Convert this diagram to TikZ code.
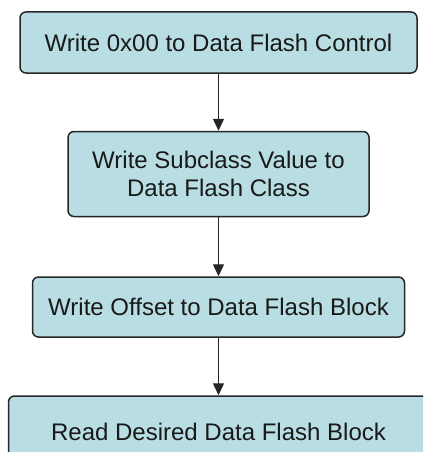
\documentclass[tikz,border=0pt]{standalone}
\usepackage{fontspec}
\setmainfont{Liberation Sans}
\usetikzlibrary{arrows.meta, positioning}
\definecolor{boxfill}{RGB}{184,222,227}
\definecolor{boxline}{RGB}{38,38,38}

\begin{document}
\begin{tikzpicture}[x=1pt, y=-1pt,
	stepbox/.style={draw=boxline, line width=1.5pt, fill=boxfill, rounded corners=6pt,
		align=center, inner sep=0pt, text=black!90,
		font=\fontsize{24}{28}\selectfont},
	flow/.style={draw=boxline, line width=1.4pt, -{Triangle[width=11pt, length=12pt]}}]
	
	%//page is 423 x 452, bottom box runs off the edge
	\clip (0,0) rectangle (423,452);
	
	\node [stepbox, minimum width=397pt, minimum height=61pt] (ctrl) at (218.5, 42.5) {Write 0x00 to Data Flash Control};
	\node [stepbox, minimum width=301pt, minimum height=85pt] (subcls) at (218.5, 174) {Write Subclass Value to\\Data Flash Class};
	\node [stepbox, minimum width=372pt, minimum height=60pt] (offset) at (218.5, 307) {Write Offset to Data Flash Block};
	\node [stepbox, minimum width=420pt, minimum height=72pt] (readblk) at (218.5, 432) {Read Desired Data Flash Block};
	
	\draw [flow] (ctrl) -- (subcls);
	\draw [flow] (subcls) -- (offset);
	\draw [flow] (offset) -- (readblk);
	
\end{tikzpicture}
\end{document}
